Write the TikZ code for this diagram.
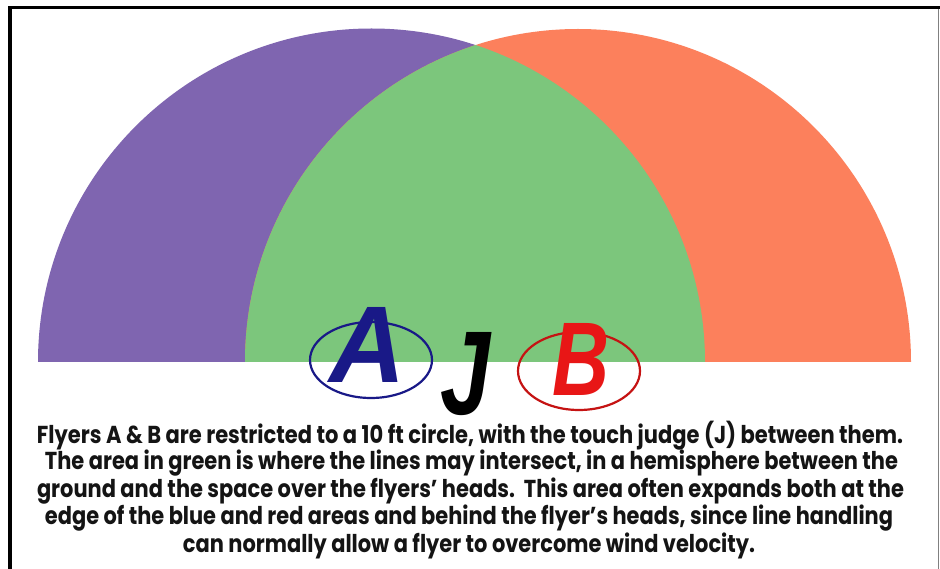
\documentclass[tikz,border=0pt]{standalone}
\usepackage{fontspec}
\usepackage{graphicx}
\setmainfont{Poppins}
\newfontfamily\letterfont{Liberation Sans}
\definecolor{purplearea}{RGB}{127,101,176}
\definecolor{greenarea}{RGB}{124,198,124}
\definecolor{redarea}{RGB}{252,128,92}
\definecolor{navyA}{RGB}{25,25,135}
\definecolor{redB}{RGB}{232,22,22}
\definecolor{bodytext}{RGB}{20,20,20}
\tikzset{
  bodyline/.style={inner sep=0pt, text=bodytext, font=\fontsize{24.5}{27}\selectfont\bfseries},
  bigletter/.style={inner sep=0pt, font=\letterfont\bfseries\itshape},
  ringA/.style={draw=navyA, line width=2.2pt},
  ringB/.style={draw=redB!85!black, line width=2.2pt},
}
\begin{document}
\begin{tikzpicture}[x=1pt,y=-1pt]
\useasboundingbox (0,0) rectangle (940,569);
\fill[white] (0,0) rectangle (940,569);
% frame
\fill[black] (8,6) rectangle (940,9.5);
\fill[black] (8,6) rectangle (11.5,569);
\draw[gray, line width=1pt] (938,9) -- (938,569);
% semicircles
\fill[purplearea] (38,362) arc[start angle=180, end angle=360, radius=333.5] -- cycle;
\fill[redarea] (245,362) arc[start angle=180, end angle=360, radius=333] -- cycle;
\begin{scope}
  \clip (38,362) arc[start angle=180, end angle=360, radius=333.5] -- cycle;
  \fill[greenarea] (245,362) arc[start angle=180, end angle=360, radius=333] -- cycle;
\end{scope}
% letters
\draw[ringA] (371,360) ellipse[x radius=61, y radius=38];
\node[bigletter, text=navyA] (A) at (368,345) {\resizebox{76pt}{75pt}{A}};
\node[bigletter, text=black] (J) at (466,374) {\resizebox{50pt}{82pt}{J}};
\draw[ringB] (579,371) ellipse[x radius=61, y radius=39];
\node[bigletter, text=redB] (B) at (581,359) {\resizebox{57pt}{72pt}{B}};
% text
\node[bodyline] (l1) at (470,436) {\resizebox{866pt}{\height}{Flyers A \& B are restricted to a 10 ft circle, with the touch judge (J) between them.}};
\node[bodyline] (l2) at (471.5,463.5) {\resizebox{853pt}{\height}{The area in green is where the lines may intersect, in a hemisphere between the}};
\node[bodyline] (l3) at (470.5,491) {\resizebox{867pt}{\height}{ground and the space over the flyers' heads.\ \ This area often expands both at the}};
\node[bodyline] (l4) at (469,518.5) {\resizebox{848pt}{\height}{edge of the blue and red areas and behind the flyer's heads, since line handling}};
\node[bodyline] (l5) at (469,546) {\resizebox{572pt}{\height}{can normally allow a flyer to overcome wind velocity.}};
\end{tikzpicture}
\end{document}
